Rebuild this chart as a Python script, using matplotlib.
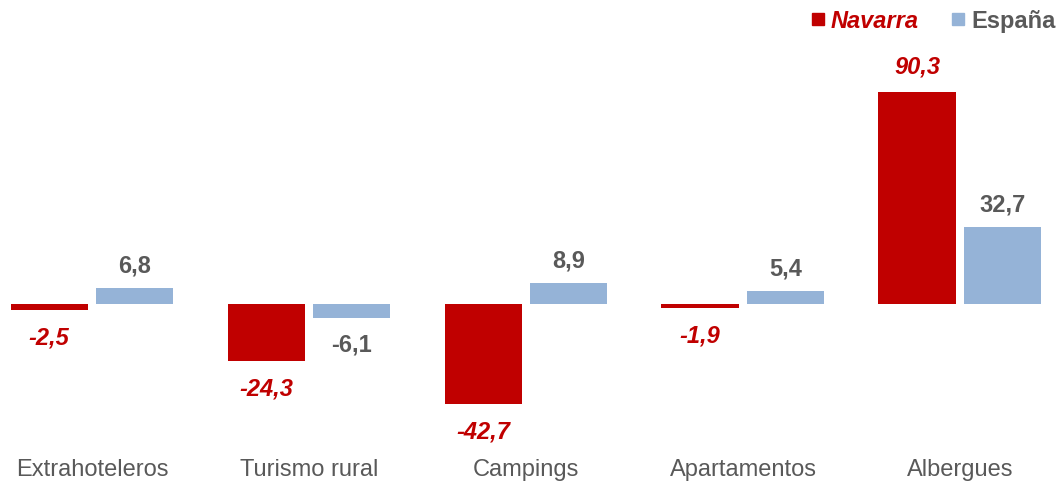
import numpy as np
import matplotlib.pyplot as plt
from matplotlib.lines import Line2D

categorias = ["Extrahoteleros", "Turismo rural", "Campings", "Apartamentos", "Albergues"]
navarra = [-2.5, -24.3, -42.7, -1.9, 90.3]
espana = [6.8, -6.1, 8.9, 5.4, 32.7]

rojo = "#C00000"
azul = "#95B3D7"
gris = "#595959"

plt.rcParams['font.family'] = ['Liberation Sans', 'DejaVu Sans']

fig = plt.figure(figsize=(10.6, 4.83), dpi=100)
ax = fig.add_axes([0, 0, 1, 1])
x = np.arange(len(categorias))
w = 0.355
off = 0.198

ax.bar(x - off, navarra, w, color=rojo)
ax.bar(x + off, espana, w, color=azul)

def fmt(v):
    return f"{v:.1f}".replace(".", ",")

for xi, v in zip(x, navarra):
    dy = 18 if v > 0 else -20
    ax.annotate(fmt(v), (xi - off, v), xytext=(0, dy), textcoords="offset points",
                ha="center", va="center", color=rojo, fontsize=17,
                fontweight="bold", fontstyle="italic")
for xi, v in zip(x, espana):
    dy = 16 if v > 0 else -19
    ax.annotate(fmt(v), (xi + off, v), xytext=(0, dy), textcoords="offset points",
                ha="center", va="center", color=gris, fontsize=17, fontweight="bold")

for xi, c in zip(x, categorias):
    ax.text(xi, 0.027, c, transform=ax.get_xaxis_transform(), ha="center",
            va="center", color=gris, fontsize=17)

ax.set_xlim(-0.424, 4.461)
ax.set_ylim(-76.2, 129.4)
ax.axis("off")

handles = [Line2D([], [], marker="s", ls="", color=rojo, markersize=8),
           Line2D([], [], marker="s", ls="", color=azul, markersize=8)]
leg = ax.legend(handles, ["Navarra", "España"], loc="upper right",
                bbox_to_anchor=(1.0, 0.99), frameon=False, ncol=2, fontsize=17,
                handlelength=0.5, handletextpad=0.3, columnspacing=1.4,
                borderaxespad=0.0, borderpad=0.2)
t1, t2 = leg.get_texts()
t1.set_color(rojo)
t1.set_fontweight("bold")
t1.set_fontstyle("italic")
t2.set_color(gris)
t2.set_fontweight("bold")

fig.savefig("out.png", dpi=100)
